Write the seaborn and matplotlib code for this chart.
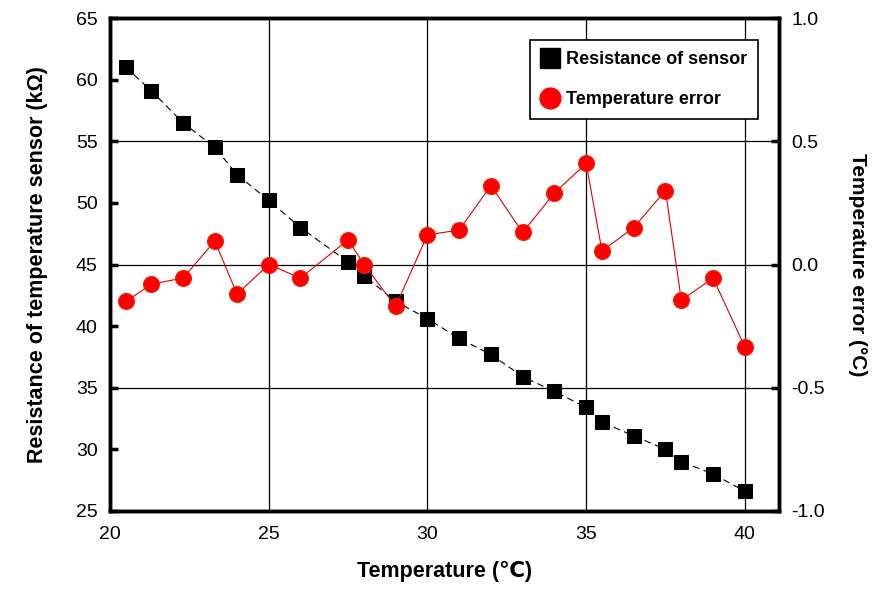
import matplotlib
matplotlib.use("Agg")
import matplotlib.pyplot as plt
import seaborn as sns
import pandas as pd
from matplotlib.lines import Line2D

sns.set_style("white")
plt.rcParams['font.family'] = ['Liberation Sans', 'DejaVu Sans']
plt.rcParams['text.color'] = 'black'
plt.rcParams['axes.labelcolor'] = 'black'
plt.rcParams['xtick.color'] = 'black'
plt.rcParams['ytick.color'] = 'black'

temp = [20.5, 21.3, 22.3, 23.3, 24.0, 25.0, 26.0, 27.5, 28.0, 29.0, 30.0,
        31.0, 32.0, 33.0, 34.0, 35.0, 35.5, 36.5, 37.5, 38.0, 39.0, 40.0]
resistance = [61.0, 59.1, 56.5, 54.5, 52.3, 50.2, 48.0, 45.2, 44.1, 42.0, 40.6,
              39.0, 37.7, 35.9, 34.7, 33.4, 32.2, 31.1, 30.0, 29.0, 28.0, 26.6]
temp_error = [-0.15, -0.08, -0.055, 0.095, -0.12, 0.0, -0.055, 0.10, 0.0, -0.17, 0.12,
              0.14, 0.32, 0.13, 0.29, 0.41, 0.055, 0.15, 0.30, -0.145, -0.055, -0.335]

df = pd.DataFrame({"temp": temp, "res": resistance, "err": temp_error})

fig = plt.figure(figsize=(8.86, 5.91), dpi=100)
ax = fig.add_axes([0.1242, 0.1354, 0.7548, 0.8341])
ax2 = ax.twinx()

sns.lineplot(data=df, x="temp", y="res", ax=ax, color="black", lw=0.8,
             linestyle=(0, (6, 4)), marker="s", markersize=9.5,
             markeredgecolor="black", markerfacecolor="black")
sns.lineplot(data=df, x="temp", y="err", ax=ax2, color="#e00000", lw=0.8,
             marker="o", markersize=11.5, markeredgecolor="#ff1a00",
             markerfacecolor="#ff0000")

ax.set_xlim(20, 41.07)
ax.set_ylim(25, 65)
ax2.set_ylim(-1.0, 1.0)
ax.set_xticks([20, 25, 30, 35, 40])
ax.set_yticks(range(25, 66, 5))
ax2.set_yticks([-1.0, -0.5, 0.0, 0.5, 1.0])
ax2.set_yticklabels(["-1.0", "-0.5", "0.0", "0.5", "1.0"])

ax.grid(axis="x", color="black", lw=0.9)
ax2.grid(axis="y", color="black", lw=0.9)
ax.set_axisbelow(True)

for a in (ax, ax2):
    for s in a.spines.values():
        s.set_linewidth(2.5)
        s.set_color("black")
ax.tick_params(axis="x", direction="in", length=6, width=2.5, labelsize=14, pad=11)
ax.tick_params(axis="y", direction="in", length=6, width=2.5, labelsize=14, pad=9)
ax2.tick_params(axis="y", direction="in", length=6, width=2.5, labelsize=14, pad=9)

ax.set_xlabel("Temperature (\u2103)", fontsize=15.5, fontweight="bold", labelpad=13)
ax.set_ylabel("Resistance of temperature sensor (k\u03a9)", fontsize=15.5,
              fontweight="bold", labelpad=20)
ax2.set_ylabel("Temperature error (\u00b0C)", fontsize=15, fontweight="bold",
               rotation=270, labelpad=30)

handles = [Line2D([], [], ls="none", marker="s", color="black", markersize=14),
           Line2D([], [], ls="none", marker="o", color="#ff0000", markersize=15)]
leg = ax2.legend(handles, ["Resistance of sensor", "Temperature error"],
                 loc="upper right", bbox_to_anchor=(0.9686, 0.9554), borderaxespad=0,
                 frameon=True, fancybox=False, edgecolor="black", framealpha=1,
                 prop={"weight": "bold", "size": 13}, labelspacing=1.3,
                 handletextpad=0.3, handlelength=1.1, borderpad=0.6)
leg.get_frame().set_linewidth(1.2)

fig.savefig("out.png", dpi=100)
